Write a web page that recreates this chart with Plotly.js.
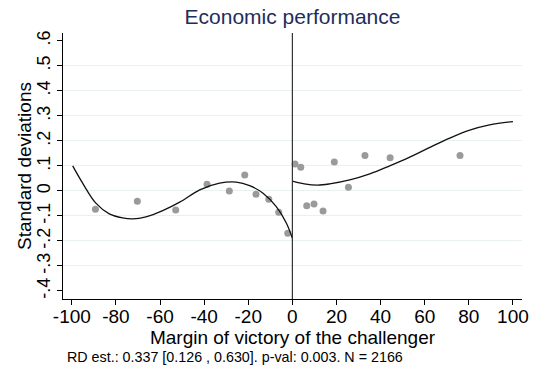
<!DOCTYPE html>
<html>
<head>
<meta charset="utf-8">
<script src="https://cdn.plot.ly/plotly-3.0.1.min.js"></script>
<style>html,body{margin:0;padding:0;background:#fff;}#chart{width:542px;height:376px;}</style>
</head>
<body>
<div id="chart"></div>
<script>
// Binned scatter points (left of cutoff)
const binXLeft = [-89.3, -70.3, -52.9, -38.7, -28.6, -21.6, -16.5, -10.7, -6.2, -2.1];
const binYLeft = [-0.073, -0.041, -0.076, 0.027, 0.000, 0.064, -0.013, -0.033, -0.085, -0.169];
// Binned scatter points (right of cutoff)
const binXRight = [1.2, 3.8, 6.5, 9.8, 13.9, 19.0, 25.4, 32.9, 44.3, 76.0];
const binYRight = [0.107, 0.095, -0.059, -0.052, -0.080, 0.115, 0.015, 0.141, 0.132, 0.141];
// Fitted polynomial curve (left)
const fitXLeft = [-99.6, -95.1, -89.1, -83.0, -77.0, -72.4, -66.4, -58.8, -51.1, -42.0, -33.0, -25.4, -19.4, -13.3, -7.3, -2.7, 0];
const fitYLeft = [0.100, 0.031, -0.049, -0.092, -0.108, -0.112, -0.104, -0.079, -0.045, 0.004, 0.031, 0.035, 0.021, -0.009, -0.063, -0.129, -0.189];
// Fitted polynomial curve (right)
const fitXRight = [0, 5.4, 11.5, 16.9, 26.0, 35.1, 44.1, 53.2, 62.3, 71.3, 80.4, 89.4, 100];
const fitYRight = [0.039, 0.028, 0.023, 0.028, 0.044, 0.068, 0.100, 0.135, 0.174, 0.211, 0.243, 0.264, 0.277];
// Ticks
const xTicks = [-100, -80, -60, -40, -20, 0, 20, 40, 60, 80, 100];
const yTicks = [-0.4, -0.3, -0.2, -0.1, 0, 0.1, 0.2, 0.3, 0.4, 0.5, 0.6];
const yTickText = ["-.4", "-.3", "-.2", "-.1", "0", ".1", ".2", ".3", ".4", ".5", ".6"];
const yGrid = [-0.3, -0.2, -0.1, 0, 0.1, 0.2, 0.3, 0.4, 0.5];
const cutoff = 0;
const titleText = "Economic performance";
const xTitle = "Margin of victory of the challenger";
const yTitle = "Standard deviations";
const noteText = "RD est.: 0.337 [0.126 , 0.630]. p-val: 0.003. N = 2166";

const FONT = "Liberation Sans, Arial, Helvetica, sans-serif";
const ptColor = "#9a9a9a";

const traces = [
  {x: binXLeft, y: binYLeft, type: "scatter", mode: "markers",
   marker: {color: ptColor, size: 7}, hoverinfo: "skip", showlegend: false},
  {x: binXRight, y: binYRight, type: "scatter", mode: "markers",
   marker: {color: ptColor, size: 7}, hoverinfo: "skip", showlegend: false},
  {x: fitXLeft, y: fitYLeft, type: "scatter", mode: "lines",
   line: {color: "#111", width: 1.3, shape: "spline", smoothing: 1}, showlegend: false},
  {x: fitXRight, y: fitYRight, type: "scatter", mode: "lines",
   line: {color: "#111", width: 1.3, shape: "spline", smoothing: 1}, showlegend: false},
  // invisible trace to anchor the grid axis
  {x: [cutoff], y: [0], yaxis: "y2", type: "scatter", mode: "markers",
   marker: {opacity: 0}, hoverinfo: "skip", showlegend: false}
];

const yRange = [-0.432, 0.631];
const layout = {
  width: 542, height: 376,
  margin: {l: 63, r: 20, t: 33, b: 77},
  paper_bgcolor: "#fff", plot_bgcolor: "rgba(0,0,0,0)",
  font: {family: FONT, color: "#000"},
  title: {text: titleText, font: {size: 21, color: "#1f2d5c", family: FONT},
          x: 0.5, xref: "paper", y: 1 - 17/376, yref: "container", yanchor: "middle"},
  xaxis: {range: [-104, 104.1], tickvals: xTicks, ticktext: xTicks.map(String),
          showgrid: false, zeroline: false, showline: true, linecolor: "#000", linewidth: 1,
          ticks: "outside", ticklen: 5, tickcolor: "#000", ticklabelstandoff: -5,
          tickfont: {size: 19, family: FONT},
          title: {text: xTitle, font: {size: 19, family: FONT}, standoff: 0}},
  yaxis: {range: yRange, tickvals: yTicks, ticktext: yTickText, tickangle: -90,
          showgrid: false, zeroline: false, showline: true, linecolor: "#000", linewidth: 1,
          ticks: "outside", ticklen: 5, tickcolor: "#000",
          tickfont: {size: 18, family: FONT}},
  yaxis2: {range: yRange, overlaying: "y", tickvals: yGrid, showticklabels: false,
           showgrid: true, gridcolor: "#e8f0f2", gridwidth: 1, zeroline: false, showline: false,
           layer: "below traces"},
  shapes: [
    {type: "line", xref: "x", yref: "paper", x0: cutoff, x1: cutoff, y0: 0, y1: 1,
     line: {color: "#333", width: 1.2}}
  ],
  annotations: [
    {text: yTitle, xref: "paper", yref: "paper", x: (24 - 63) / 459, y: 0.5,
     xanchor: "center", yanchor: "middle", textangle: -90, showarrow: false,
     font: {size: 19, family: FONT, color: "#000"}},
    {text: noteText, xref: "paper", yref: "paper", x: 2/459, y: -58/266,
     xanchor: "left", yanchor: "middle", showarrow: false,
     font: {size: 14.3, family: FONT, color: "#000"}}
  ]
};

Plotly.newPlot("chart", traces, layout, {displayModeBar: false, staticPlot: true});
</script>
</body>
</html>
